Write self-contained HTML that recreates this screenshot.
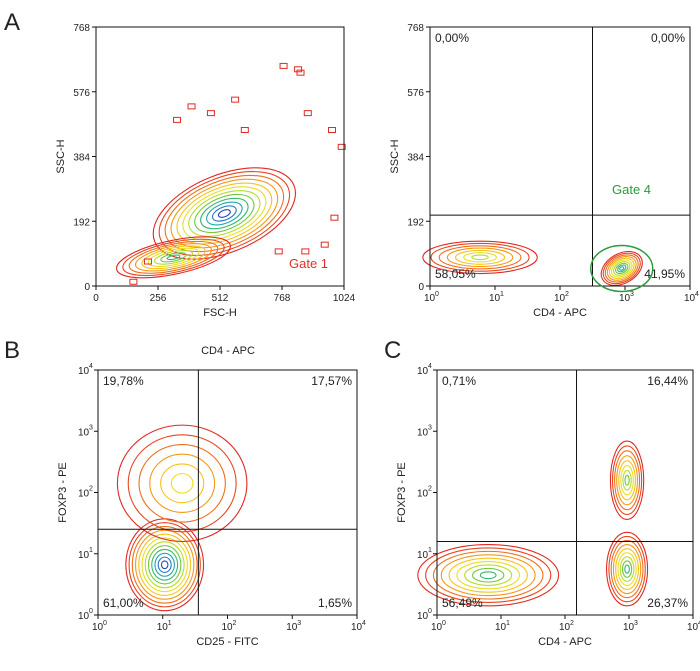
<!DOCTYPE html>
<html><head><meta charset="utf-8"><style>
html,body{margin:0;padding:0;background:#fff}
svg text{font-family:"Liberation Sans",sans-serif}
</style></head><body>
<svg id="fig" width="700" height="666" viewBox="0 0 700 666" xmlns="http://www.w3.org/2000/svg">
<g id="root"></g>
</svg>
<script>
// ---- data ----
const linTicks = ["0","192","384","576","768"];
const linTickVals = [0,192,384,576,768];
const fscTicks = ["0","256","512","768","1024"];
const fscTickVals = [0,256,512,768,1024];
const logTickVals = [0,1,2,3,4];
const quadA = ["0,00%","0,00%","58,05%","41,95%"];
const quadB = ["19,78%","17,57%","61,00%","1,65%"];
const quadC = ["0,71%","16,44%","56,49%","26,37%"];
// blobs: [xCenter, yCenter, xSpread, ySpread, rotation, levels]
const blobsA1 = [[530,215,310,115,-22,12],[320,85,240,50,-12,9]];
const blobsA2 = [[0.77,85,0.88,48,0,7],[2.95,52,0.34,44,-30,10]];
const blobsB = [[1.03,0.82,0.6,0.75,0,12],[1.3,2.15,1.0,0.95,0,6]];
const blobsC = [[0.8,0.65,1.1,0.5,0,9],[2.97,2.2,0.26,0.64,0,8],[2.97,0.75,0.32,0.6,0,9]];
// stray events in panel A (data units)
const strayA1 = [[760,660],[820,650],[830,640],[560,560],[460,520],[320,500],[960,470],[1000,420],[860,520],[850,110],[930,130],[970,210],[740,110],[200,80],[140,20],[380,540],[600,470]];

const NS="http://www.w3.org/2000/svg";
const root=document.getElementById('root');
function mk(tag,attrs,parent){const e=document.createElementNS(NS,tag);for(const k in attrs)e.setAttribute(k,attrs[k]);(parent||root).appendChild(e);return e;}
function txt(s,x,y,opt,name){const t=mk('text',Object.assign({x:x,y:y,'font-size':11,fill:'#222'},opt||{}));t.textContent=s;


return t;}
const palette=['#e02a22','#e8471f','#ef6e1c','#f5981a','#f7c21b','#e8e020','#b8dc28','#70c83a','#36b870','#20a8b0','#2478c8','#2848b0'];

function panel(p){
  const g=mk('g',{});
  
  
  const sx=v=>p.x0+(v-p.xmin)/(p.xmax-p.xmin)*(p.x1-p.x0);
  const sy=v=>p.y1-(v-p.ymin)/(p.ymax-p.ymin)*(p.y1-p.y0);
  p.blobs.forEach((b)=>{
    const cx=sx(b[0]),cy=sy(b[1]);
    const rx=b[2]/(p.xmax-p.xmin)*(p.x1-p.x0), ry=b[3]/(p.ymax-p.ymin)*(p.y1-p.y0);
    const n=b[5];
    for(let i=0;i<n;i++){
      const f=1-i/n;
      const e=mk('ellipse',{cx:cx,cy:cy,rx:Math.max(1,rx*f),ry:Math.max(1,ry*f),fill:'none',stroke:palette[Math.min(i,palette.length-1)],'stroke-width':1.1,transform:`rotate(${b[4]} ${cx} ${cy})`},g);
      
      
    }
  });
  (p.stray||[]).forEach(s=>{
    const e=mk('rect',{x:sx(s[0]),y:sy(s[1]),width:7,height:5,fill:'none',stroke:'#e02a22','stroke-width':1},g);
    
    
  });
  const r=mk('rect',{x:p.x0,y:p.y0,width:p.x1-p.x0,height:p.y1-p.y0,fill:'none',stroke:'#111','stroke-width':1},g);
  
  
  p.xt.forEach((v,i)=>{const x=sx(v);mk('line',{x1:x,y1:p.y1,x2:x,y2:p.y1+4,stroke:'#111'},g);
    if(p.log){txt('10',x-6,p.y1+15,{'font-size':10},'x-tick-label');txt(String(i),x+5,p.y1+10,{'font-size':7},'x-tick-exp');}
    else txt(p.xl[i],x,p.y1+15,{'font-size':10,'text-anchor':'middle'},'x-tick-label');});
  p.yt.forEach((v,i)=>{const y=sy(v);mk('line',{x1:p.x0-4,y1:y,x2:p.x0,y2:y,stroke:'#111'},g);
    if(p.logy){txt('10',p.x0-20,y+4,{'font-size':10},'y-tick-label');txt(String(i),p.x0-9,y-2,{'font-size':7},'y-tick-exp');}
    else txt(p.yl[i],p.x0-6,y+4,{'font-size':10,'text-anchor':'end'},'y-tick-label');});
  if(p.q){
    const qx=sx(p.q[0]),qy=sy(p.q[1]);
    mk('line',{x1:qx,y1:p.y0,x2:qx,y2:p.y1,stroke:'#111'},g);
    mk('line',{x1:p.x0,y1:qy,x2:p.x1,y2:qy,stroke:'#111'},g);
    txt(p.qt[0],p.x0+5,p.y0+15,{'font-size':12},'quadrant-ul-percent');
    txt(p.qt[1],p.x1-5,p.y0+15,{'font-size':12,'text-anchor':'end'},'quadrant-ur-percent');
    txt(p.qt[2],p.x0+5,p.y1-8,{'font-size':12},'quadrant-ll-percent');
    txt(p.qt[3],p.x1-5,p.y1-8,{'font-size':12,'text-anchor':'end'},'quadrant-lr-percent');
  }
  txt(p.xlab,(p.x0+p.x1)/2,p.y1+30,{'font-size':11,'text-anchor':'middle'},'x-axis-title');
  txt(p.ylab,0,0,{'font-size':11,'text-anchor':'middle',transform:`translate(${p.x0-32},${(p.y0+p.y1)/2}) rotate(-90)`},'y-axis-title');
  return {sx,sy,g};
}
const A1=panel({name:'panel-a-scatter',x0:96,x1:344,y0:27,y1:286,xmin:0,xmax:1024,ymin:0,ymax:768,xt:fscTickVals,xl:fscTicks,yt:linTickVals,yl:linTicks,blobs:blobsA1,stray:strayA1,xlab:'FSC-H',ylab:'SSC-H'});
txt('Gate 1',289,268,{'font-size':13,fill:'#e0302a'},'gate-1-label');
const A2=panel({name:'panel-a-cd4',x0:430,x1:690,y0:27,y1:286,xmin:0,xmax:4,ymin:0,ymax:768,xt:logTickVals,log:true,yt:linTickVals,yl:linTicks,blobs:blobsA2,q:[2.5,210],qt:quadA,xlab:'CD4 - APC',ylab:'SSC-H'});
txt('Gate 4',612,194,{'font-size':13,fill:'#2a9a3a'},'gate-4-label');
const ge=mk('ellipse',{cx:A2.sx(2.95),cy:A2.sy(52),rx:31,ry:23,fill:'none',stroke:'#2a9a3a','stroke-width':1.5});


const B=panel({name:'panel-b',x0:98,x1:357,y0:370,y1:615,xmin:0,xmax:4,ymin:0,ymax:4,xt:logTickVals,log:true,yt:logTickVals,logy:true,blobs:blobsB,q:[1.55,1.4],qt:quadB,xlab:'CD25 - FITC',ylab:'FOXP3 - PE'});
txt('CD4 - APC',228,354,{'font-size':11,'text-anchor':'middle'},'panel-b-title');
const C=panel({name:'panel-c',x0:437,x1:693,y0:370,y1:615,xmin:0,xmax:4,ymin:0,ymax:4,xt:logTickVals,log:true,yt:logTickVals,logy:true,blobs:blobsC,q:[2.18,1.2],qt:quadC,xlab:'CD4 - APC',ylab:'FOXP3 - PE'});
txt('A',4,30,{'font-size':24},'panel-label-a');
txt('B',4,358,{'font-size':24},'panel-label-b');
txt('C',384,358,{'font-size':24},'panel-label-c');
</script>
</body></html>
